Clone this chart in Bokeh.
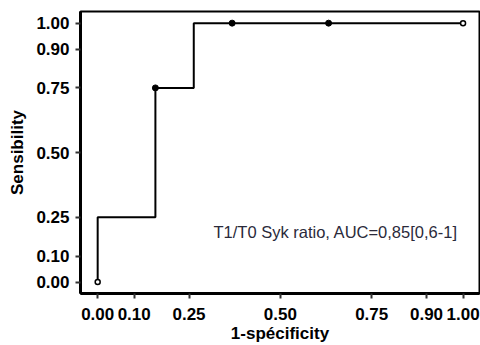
from bokeh.plotting import figure
from bokeh.models import FixedTicker, PrintfTickFormatter
from bokeh.core.properties import value
from bokeh.embed import file_html
from bokeh.resources import INLINE

# ROC step curve
roc_x = [0.0, 0.0, 0.158, 0.158, 0.263, 0.263, 1.0]
roc_y = [0.0, 0.25, 0.25, 0.75, 0.75, 1.0, 1.0]
# marked points
filled_x = [0.158, 0.368, 0.632]
filled_y = [0.75, 1.0, 1.0]
open_x = [0.0, 1.0]
open_y = [0.0, 1.0]
ticks = [0.0, 0.10, 0.25, 0.50, 0.75, 0.90, 1.00]
label_text = "T1/T0 Syk ratio, AUC=0,85[0,6-1]"

p = figure(width=480, height=345, output_backend="svg", toolbar_location=None,
           x_range=(-0.047, 1.045), y_range=(-0.044, 1.045),
           min_border_left=80, min_border_right=1, min_border_top=11, min_border_bottom=51)
p.grid.visible = False
p.background_fill_color = "white"
p.border_fill_color = "white"
p.outline_line_color = "black"
p.outline_line_width = 2

p.line(roc_x, roc_y, line_color="black", line_width=2)
p.scatter(filled_x, filled_y, size=6, fill_color="black", line_color="black")
p.scatter(open_x, open_y, size=5, fill_color="white", line_color="black", line_width=1.5)

p.text(x=[0.317], y=[0.195], text=[label_text], text_font=value("Liberation Sans"),
       text_font_size="16.5px", text_color="#2a2a3a", text_baseline="middle", text_align="left")

for ax in (p.xaxis[0], p.yaxis[0]):
    ax.ticker = FixedTicker(ticks=ticks)
    ax.formatter = PrintfTickFormatter(format="%.2f")
    ax.axis_line_width = 3
    ax.axis_line_color = "black"
    ax.major_tick_line_color = "#333333"
    ax.major_tick_line_width = 2
    ax.major_tick_out = 5
    ax.major_tick_in = 0
    ax.minor_tick_line_color = None
    ax.major_label_text_font = "Liberation Sans"
    ax.major_label_text_font_style = "bold"
    ax.major_label_text_font_size = "17px"
    ax.major_label_text_color = "black"
    ax.axis_label_text_font = "Liberation Sans"
    ax.axis_label_text_font_style = "bold"
    ax.axis_label_text_font_size = "17px"
    ax.axis_label_text_color = "black"

p.xaxis.axis_label = "1-spécificity"
p.yaxis.axis_label = "Sensibility"
p.xaxis.major_label_standoff = 9
p.xaxis.axis_label_standoff = 1
p.yaxis.major_label_standoff = 6
p.yaxis.axis_label_standoff = 6

open("out.html", "w").write(file_html(p, INLINE))
